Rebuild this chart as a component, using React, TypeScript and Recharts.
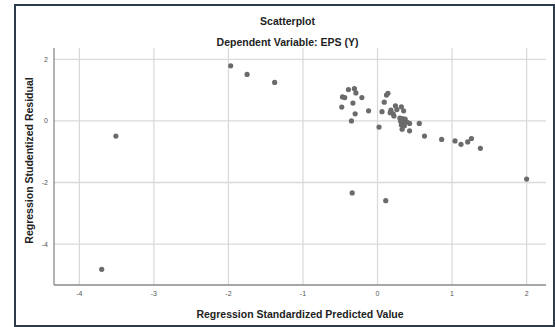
import React from 'react';
import { ScatterChart, Scatter, XAxis, YAxis, CartesianGrid, Label } from 'recharts';

const predictedValues = [
  -3.70, -3.51, -1.97, -1.75, -1.38,
  -0.39, -0.31, -0.29, -0.47, -0.44, -0.21, -0.33, -0.48, -0.12, -0.30, -0.35,
  0.02, 0.06, 0.09, 0.12, 0.14, 0.18, 0.21, 0.17, 0.24, 0.26, 0.32, 0.35, 0.22,
  0.30, 0.33, 0.37, 0.31, 0.35, 0.39, 0.32, 0.36, 0.43, 0.33, 0.43, 0.56, 0.63,
  0.86, 1.04, 1.12, 1.21, 1.26, 1.38, 2.0, -0.34, 0.11,
];
const studentizedResiduals = [
  -4.82, -0.49, 1.79, 1.51, 1.25,
  1.02, 1.05, 0.91, 0.78, 0.76, 0.76, 0.58, 0.45, 0.33, 0.23, 0.0,
  -0.2, 0.30, 0.61, 0.84, 0.90, 0.35, 0.23, 0.27, 0.49, 0.37, 0.46, 0.33, 0.16,
  0.09, 0.08, 0.06, -0.01, -0.03, -0.03, -0.13, -0.16, -0.08, -0.27, -0.32, -0.08, -0.49,
  -0.60, -0.65, -0.76, -0.68, -0.57, -0.89, -1.89, -2.34, -2.59,
];
const xTicks = [-4, -3, -2, -1, 0, 1, 2];
const yTicks = [-4, -2, 0, 2];
const chartTitle = 'Scatterplot';
const chartSubtitle = 'Dependent Variable: EPS (Y)';
const xLabel = 'Regression Standardized Predicted Value';
const yLabel = 'Regression Studentized Residual';

const points = predictedValues.map((x, i) => ({ x, y: studentizedResiduals[i] }));

const FONT = '"Liberation Sans", Arial, sans-serif';

const Dot = (props: any) => (
  <circle cx={props.cx} cy={props.cy} r={2.6} fill="#6b6b6b" />
);

export default function App() {
  return (
    <div style={{ position: 'absolute', left: 0, top: 0, width: 555, height: 327, background: '#fff', fontFamily: FONT }}>
      <div
        style={{
          position: 'absolute', left: 14, top: 4, width: 537, height: 319,
          border: '2px solid #2e3b4b',
        }}
      />
      <div style={{ position: 'absolute', left: 0, width: 575, top: 15, textAlign: 'center', fontSize: 10.5, fontWeight: 'bold', color: '#222' }}>
        {chartTitle}
      </div>
      <div style={{ position: 'absolute', left: 0, width: 575, top: 36, textAlign: 'center', fontSize: 10.5, fontWeight: 'bold', color: '#222' }}>
        {chartSubtitle}
      </div>
      <div style={{ position: 'absolute', left: 0, top: 0 }}>
        <ScatterChart width={555} height={327} margin={{ top: 48, right: 9, bottom: 0, left: 0 }}>
          <CartesianGrid stroke="#dadada" strokeWidth={1.3} horizontalValues={yTicks} verticalValues={xTicks} />
          <XAxis
            type="number"
            dataKey="x"
            domain={[-4.34, 2.26]}
            ticks={xTicks}
            allowDataOverflow
            height={42}
            tickLine={false}
            tickSize={4}
            axisLine={{ stroke: '#8a8a8a', strokeWidth: 1.3 }}
            tick={{ fontSize: 7, fill: '#555', fontFamily: FONT }}
          >
            <Label value={xLabel} position="insideBottom" offset={9} style={{ fontSize: 10.5, fontWeight: 'bold', fill: '#222', fontFamily: FONT }} />
          </XAxis>
          <YAxis
            type="number"
            dataKey="y"
            domain={[-5.33, 2.37]}
            ticks={yTicks}
            allowDataOverflow
            width={54}
            tickLine={false}
            tickSize={4}
            axisLine={{ stroke: '#8a8a8a', strokeWidth: 1.3 }}
            tick={{ fontSize: 7, fill: '#555', fontFamily: FONT }}
          >
            <Label value={yLabel} angle={-90} position="insideLeft" offset={29} dy={-6} style={{ textAnchor: 'middle', fontSize: 10.5, fontWeight: 'bold', fill: '#222', fontFamily: FONT }} />
          </YAxis>
          <Scatter data={points} shape={Dot} isAnimationActive={false} />
        </ScatterChart>
      </div>
    </div>
  );
}
